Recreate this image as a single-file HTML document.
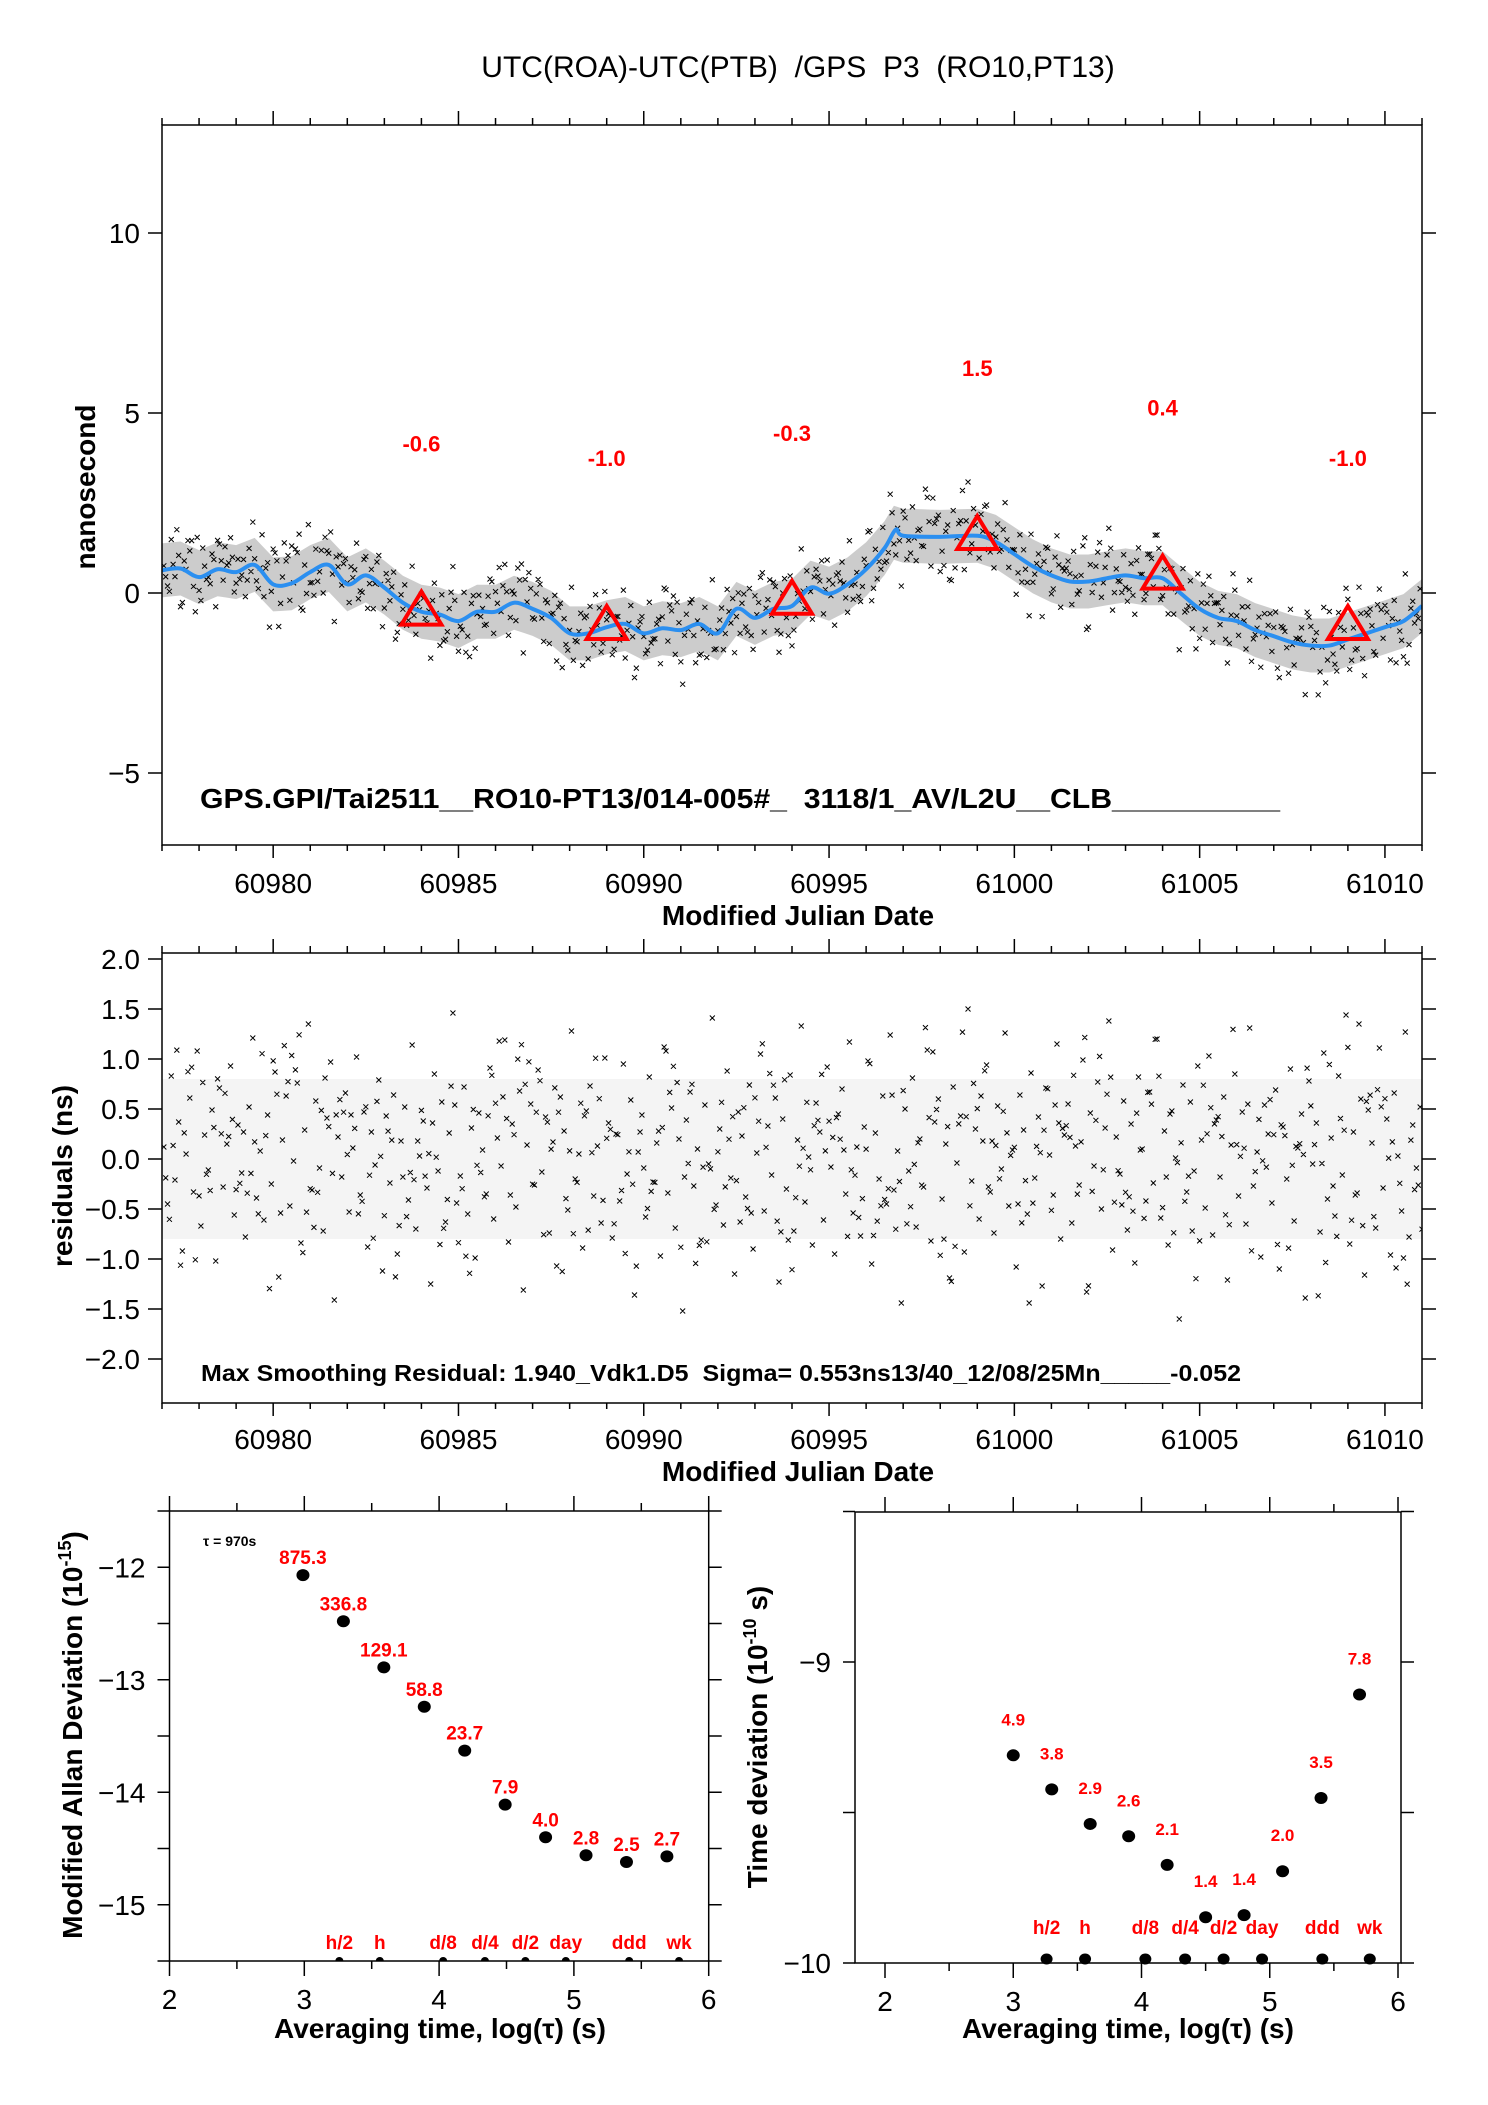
<!DOCTYPE html>
<html><head><meta charset="utf-8"><style>
html,body{margin:0;padding:0;background:#fff;}
svg{display:block;font-family:"Liberation Sans",sans-serif;}
svg text{white-space:pre;}
</style></head><body>
<svg id="chart" width="1488" height="2105" viewBox="0 0 1488 2105" xmlns="http://www.w3.org/2000/svg" xml:space="preserve">
<rect width="1488" height="2105" fill="#fff"/>
<text x="798" y="77" font-size="30" text-anchor="middle">UTC(ROA)-UTC(PTB)  /GPS  P3  (RO10,PT13)</text>
<defs>
<clipPath id="c1"><rect x="162" y="125" width="1260" height="720"/></clipPath>
<clipPath id="c2"><rect x="162" y="953" width="1260" height="450"/></clipPath>
</defs>
<g id="top"></g>
<g id="mid"></g>
<g id="bl"></g>
<g id="br"></g>
</svg>
<script>
// ---- top plot data ----
const days = [60977,60977.5,60978,60978.5,60979,60979.5,60980,60980.5,60981,60981.5,60982,60982.5,60983,60983.5,60984,60984.5,60985,60985.5,60986,60986.5,60987,60987.5,60988,60988.5,60989,60989.5,60990,60990.5,60991,60991.5,60992,60992.5,60993,60993.5,60994,60994.5,60995,60995.5,60996,60996.5,60996.8,60997,60998,60999,60999.5,61000,61000.5,61001,61001.5,61002,61002.5,61003,61003.5,61004,61004.5,61005,61005.5,61006,61006.5,61007,61007.5,61008,61008.5,61009,61009.5,61010,61010.5,61011];
const smoothVals = [0.63,0.68,0.44,0.66,0.58,0.78,0.24,0.27,0.58,0.78,0.24,0.49,0.15,-0.27,-0.52,-0.6,-0.78,-0.52,-0.52,-0.27,-0.44,-0.69,-1.12,-1.12,-0.95,-0.86,-1.12,-0.98,-1.03,-0.86,-1.12,-0.44,-0.69,-0.44,-0.36,0.15,-0.02,0.24,0.66,1.25,1.76,1.59,1.56,1.59,1.42,1.08,0.74,0.49,0.32,0.32,0.41,0.49,0.41,0.41,-0.02,-0.44,-0.69,-0.78,-1.03,-1.2,-1.37,-1.46,-1.46,-1.29,-1.12,-0.95,-0.78,-0.36];
const markerDays = [60984,60989,60994,60999,61004,61009];
const markerVals = [-0.6,-1.0,-0.3,1.5,0.4,-1.0];
const markerLabels = ["-0.6","-1.0","-0.3","1.5","0.4","-1.0"];
const mjdTicks = [60980,60985,60990,60995,61000,61005,61010];
const nsTicks = [-5,0,5,10];
const residTicks = [-2.0,-1.5,-1.0,-0.5,0.0,0.5,1.0,1.5,2.0];
const residStart = 60977.05, residStep = 0.1;
const resid = [0.12,-0.45,0.83,-0.21,0.37,-0.92,0.05,0.61,-0.33,1.08,-0.67,0.24,-0.11,0.49,-1.02,0.71,-0.28,0.15,0.93,-0.56,
0.34,-0.14,-0.78,0.52,1.21,-0.39,0.08,-0.61,0.44,-0.25,0.87,-1.18,0.19,0.63,-0.47,-0.02,0.76,-0.84,0.29,1.35,
-0.31,0.58,-0.09,-0.72,0.41,0.97,-1.41,0.22,-0.18,0.66,-0.53,0.11,1.02,-0.36,0.47,-0.88,0.27,-0.06,0.79,-1.12,
0.43,-0.24,0.64,-0.95,0.18,0.52,-0.41,1.14,-0.7,0.03,0.38,-0.29,-1.25,0.85,-0.12,0.57,-0.63,0.26,1.46,-0.44,
-0.17,0.72,-0.55,0.31,-0.99,0.46,0.09,-0.35,0.91,-0.6,0.21,-0.07,1.19,-0.83,0.35,-0.48,0.68,-1.31,0.14,0.55,
-0.26,0.89,-0.13,0.42,-0.74,0.17,-1.07,0.62,0.28,-0.51,1.28,-0.2,0.05,-0.89,0.48,0.73,-0.37,0.13,-0.64,1.01,
0.36,-0.79,0.25,-0.42,0.95,-0.15,0.59,-1.36,0.07,0.44,-0.58,0.82,-0.23,0.16,-0.97,1.12,-0.34,0.51,-0.69,0.2,
-1.52,0.39,0.67,-0.27,0.1,-0.81,0.54,-0.05,1.41,-0.46,0.3,-0.66,0.88,-0.19,-1.15,0.47,0.23,-0.38,0.74,-0.9,
0.06,1.05,-0.52,0.33,-0.16,0.61,-1.23,0.4,-0.3,0.84,-0.72,0.19,1.33,-0.43,0.02,-0.86,0.56,0.27,-0.61,0.92,
-0.08,-0.95,0.45,0.7,-0.35,1.17,-0.54,0.12,-0.77,0.32,0.98,-1.05,0.26,-0.2,0.63,-0.45,1.24,-0.31,0.08,-1.44,
0.5,-0.12,0.81,-0.68,0.2,-0.28,1.09,-0.82,0.37,0.6,-0.4,0.15,-1.19,0.72,-0.04,0.43,-0.93,1.5,-0.22,0.3,
-0.6,0.18,0.94,-0.33,-0.74,0.53,-0.1,1.26,-0.47,0.09,-1.08,0.64,0.29,-0.55,0.86,-0.19,0.42,-1.27,0.71,0.04,
-0.36,1.15,-0.8,0.24,0.55,-0.64,0.13,-0.26,0.99,-1.33,0.46,-0.07,0.77,-0.5,0.31,1.38,-0.91,0.22,-0.15,0.58,
-0.71,0.35,-1.04,0.82,0.1,-0.42,0.67,-0.24,1.2,-0.59,0.28,-0.86,0.48,0.01,-1.6,0.74,-0.33,0.57,-0.12,0.93,
0.19,-0.49,1.03,-0.76,0.39,-0.18,0.62,-1.21,0.14,0.85,-0.37,0.47,-0.65,1.31,-0.27,0.07,-0.98,0.54,0.25,-0.44,
0.69,-1.1,0.32,-0.2,0.9,-0.62,0.11,0.45,-1.39,0.78,-0.05,0.36,-0.73,1.06,-0.4,0.21,-0.57,0.83,-0.16,1.44,
-0.85,0.27,-0.34,0.6,-1.16,0.49,0.16,-0.69,1.11,-0.29,0.4,-0.96,0.66,0.03,-0.52,1.27,-0.78,0.34,-0.09,0.52];
// ---- bottom plots data ----
const logTau = [2.99,3.29,3.59,3.89,4.19,4.49,4.79,5.09,5.39,5.69];
const madevVals = [-12.07,-12.48,-12.89,-13.24,-13.63,-14.11,-14.40,-14.56,-14.62,-14.57];
const madevLabels = ["875.3","336.8","129.1","58.8","23.7","7.9","4.0","2.8","2.5","2.7"];
const tdevLogTau = [3.0,3.3,3.6,3.9,4.2,4.5,4.8,5.1,5.4,5.7];
const tdevVals = [-9.31,-9.423,-9.538,-9.579,-9.674,-9.848,-9.841,-9.695,-9.452,-9.108];
const tdevLabels = ["4.9","3.8","2.9","2.6","2.1","1.4","1.4","2.0","3.5","7.8"];
const periodLogTau = [3.26,3.56,4.03,4.34,4.64,4.94,5.41,5.78];
const periodLabels = ["h/2","h","d/8","d/4","d/2","day","ddd","wk"];
const logTicks = [2,3,4,5,6];
const madevTicks = [-15,-14,-13,-12];
const tdevTicks = [-10,-9];

const NS = "http://www.w3.org/2000/svg";
function mk(parent, tag, attrs, text){
  const e = document.createElementNS(NS, tag);
  for (const k in attrs) e.setAttribute(k, attrs[k]);
  if (text !== undefined) e.textContent = text;
  parent.appendChild(e);
  return e;
}
function lin(d0,d1,r0,r1){ return v => r0 + (v-d0)*(r1-r0)/(d1-d0); }
function smoothAt(t){
  if (t <= days[0]) return smoothVals[0];
  for (let i=1;i<days.length;i++){
    if (t <= days[i]){ const f=(t-days[i-1])/(days[i]-days[i-1]); return smoothVals[i-1]+f*(smoothVals[i]-smoothVals[i-1]); }
  }
  return smoothVals[smoothVals.length-1];
}
function frame(g, x0,y0,x1,y1){
  const r = mk(g,'rect',{x:x0,y:y0,width:x1-x0,height:y1-y0,fill:'none',stroke:'#000','stroke-width':1.5});
  
  
}
function tick(g,x1,y1,x2,y2){ mk(g,'line',{x1:x1,y1:y1,x2:x2,y2:y2,stroke:'#000','stroke-width':1.5}); }

// ================= TOP PLOT =================
(function(){
  const g = document.getElementById('top');
  const X0=162, X1=1422, Y0=125, Y1=845;
  const xs = lin(60977,61011,X0,X1), ys = lin(-7,13,Y1,Y0);
  for (let d=60977; d<=61011; d++){
    const major = d%5===0; const x=xs(d);
    tick(g,x,Y0,x,Y0-(major?14:7)); tick(g,x,Y1,x,Y1+(major?13:6));
  }
  mjdTicks.forEach(d=>{
    const t = mk(g,'text',{x:xs(d),y:Y1+48,'font-size':28,'text-anchor':'middle'},String(d));
    
    
  });
  nsTicks.forEach(v=>{
    const y=ys(v); tick(g,X0-14,y,X0,y); tick(g,X1,y,X1+14,y);
    const t = mk(g,'text',{x:X0-22,y:y+10,'font-size':28,'text-anchor':'end'},v<0?('\u2212'+Math.abs(v)):String(v));
    
    
  });
  const cg = mk(g,'g',{'clip-path':'url(#c1)'});
  let up=[],dn=[];
  for (let t=60977; t<=61011.001; t+=0.25){ up.push(xs(t)+','+ys(smoothAt(t)+0.75)); dn.unshift(xs(t)+','+ys(smoothAt(t)-0.75)); }
  const band = mk(cg,'polygon',{points:up.concat(dn).join(' '),fill:'#000','fill-opacity':0.2});
  
  
  let p='';
  resid.forEach((r,i)=>{
    const t = residStart+i*residStep;
    const x=xs(t), y=ys(smoothAt(t)+r);
    p+=`M${x-2.5},${y-2.5}L${x+2.5},${y+2.5}M${x-2.5},${y+2.5}L${x+2.5},${y-2.5}`;
    const t2 = t+residStep/2, r2 = resid[(i*7+3)%resid.length];
    const x2=xs(t2), y2=ys(smoothAt(t2)+r2*0.9);
    p+=`M${x2-2.5},${y2-2.5}L${x2+2.5},${y2+2.5}M${x2-2.5},${y2+2.5}L${x2+2.5},${y2-2.5}`;
  });
  const sc = mk(cg,'path',{d:p,stroke:'#000','stroke-width':1,fill:'none'});
  
  
  const pts = days.map((d,i)=>[xs(d),ys(smoothVals[i])]);
  let d='M'+pts[0][0]+','+pts[0][1];
  for (let i=0;i<pts.length-1;i++){
    const p0=pts[Math.max(0,i-1)],p1=pts[i],p2=pts[i+1],p3=pts[Math.min(pts.length-1,i+2)];
    d+=`C${p1[0]+(p2[0]-p0[0])/6},${p1[1]+(p2[1]-p0[1])/6} ${p2[0]-(p3[0]-p1[0])/6},${p2[1]-(p3[1]-p1[1])/6} ${p2[0]},${p2[1]}`;
  }
  const ln = mk(cg,'path',{d:d,stroke:'#2b8ff0','stroke-width':4,fill:'none'});
  
  
  markerDays.forEach((md,i)=>{
    const x=xs(md), y=ys(markerVals[i]);
    const tr = mk(g,'polygon',{points:`${x},${y-23} ${x-20},${y+10} ${x+20},${y+10}`,fill:'none',stroke:'#f00','stroke-width':4});
    
    
    const lb = mk(g,'text',{x:x,y:y-163,'font-size':22,'font-weight':'bold',fill:'#f00','text-anchor':'middle'},markerLabels[i]);
    
    
  });
  frame(g,X0,Y0,X1,Y1);
  const info = mk(g,'text',{x:200,y:808,'font-size':28,'font-weight':'bold',textLength:1080,lengthAdjust:'spacingAndGlyphs'},'GPS.GPI/Tai2511__RO10-PT13/014-005#_  3118/1_AV/L2U__CLB__________');
  
  
  const xt = mk(g,'text',{x:798,y:925,'font-size':28,'font-weight':'bold','text-anchor':'middle'},'Modified Julian Date');
  
  
  const yt = mk(g,'text',{x:0,y:0,'font-size':28,'font-weight':'bold','text-anchor':'middle',transform:'translate(95,487) rotate(-90)'},'nanosecond');
  
  
})();

// ================= MIDDLE PLOT =================
(function(){
  const g = document.getElementById('mid');
  const X0=162, X1=1422, Y0=953, Y1=1403;
  const xs = lin(60977,61011,X0,X1), ys = lin(-2.44,2.06,Y1,Y0);
  for (let d=60977; d<=61011; d++){
    const major = d%5===0; const x=xs(d);
    tick(g,x,Y0,x,Y0-(major?14:7)); tick(g,x,Y1,x,Y1+(major?13:6));
  }
  mjdTicks.forEach(d=>{
    const t = mk(g,'text',{x:xs(d),y:Y1+46,'font-size':28,'text-anchor':'middle'},String(d));
    
    
  });
  residTicks.forEach(v=>{
    const y=ys(v); tick(g,X0-14,y,X0,y); tick(g,X1,y,X1+14,y);
    const s = v<0?('\u2212'+Math.abs(v).toFixed(1)):v.toFixed(1);
    const t = mk(g,'text',{x:X0-22,y:y+10,'font-size':28,'text-anchor':'end'},s);
    
    
  });
  const cg = mk(g,'g',{'clip-path':'url(#c2)'});
  const band = mk(cg,'rect',{x:X0,y:ys(0.8),width:X1-X0,height:ys(-0.8)-ys(0.8),fill:'#000','fill-opacity':0.045});
  
  
  let p='';
  resid.forEach((r,i)=>{
    const t = residStart+i*residStep;
    const x=xs(t), y=ys(r);
    p+=`M${x-2.5},${y-2.5}L${x+2.5},${y+2.5}M${x-2.5},${y+2.5}L${x+2.5},${y-2.5}`;
    const t2 = t+residStep/2, r2 = resid[(i*7+3)%resid.length]*0.9;
    const x2=xs(t2), y2=ys(r2);
    p+=`M${x2-2.5},${y2-2.5}L${x2+2.5},${y2+2.5}M${x2-2.5},${y2+2.5}L${x2+2.5},${y2-2.5}`;
  });
  const sc = mk(cg,'path',{d:p,stroke:'#000','stroke-width':1,fill:'none'});
  
  
  frame(g,X0,Y0,X1,Y1);
  const info = mk(g,'text',{x:201,y:1381,'font-size':23,'font-weight':'bold',textLength:1040,lengthAdjust:'spacingAndGlyphs'},'Max Smoothing Residual: 1.940_Vdk1.D5  Sigma= 0.553ns13/40_12/08/25Mn_____-0.052');
  
  
  const xt = mk(g,'text',{x:798,y:1481,'font-size':28,'font-weight':'bold','text-anchor':'middle'},'Modified Julian Date');
  
  
  const yt = mk(g,'text',{x:0,y:0,'font-size':28,'font-weight':'bold','text-anchor':'middle',transform:'translate(72,1176) rotate(-90)'},'residuals (ns)');
  
  
})();

// ================= BOTTOM PLOTS =================
function logAxes(g,X0,X1,Y0,Y1,xs,ys,yMin,yMax,yTicks,minorStep){
  for (let v=2; v<=6.001; v+=0.5){
    const x=xs(v); const major=Math.abs(v-Math.round(v))<1e-6;
    if (x < X0-1) continue;
    tick(g,x,Y0,x,Y0-(major?15:8)); tick(g,x,Y1,x,Y1+(major?15:8));
  }
  logTicks.forEach(v=>{
    const t = mk(g,'text',{x:xs(v),y:Y1+48,'font-size':28,'text-anchor':'middle'},String(v));
    
    
  });
  for (let v=yMin; v<=yMax+1e-6; v+=minorStep){
    const y=ys(v); tick(g,X0-12,y,X0,y); tick(g,X1,y,X1+13,y);
  }
  yTicks.forEach(v=>{
    const y=ys(v);
    const t = mk(g,'text',{x:X0-24,y:y+10,'font-size':28,'text-anchor':'end'},'\u2212'+Math.abs(v));
    
    
  });
}
(function(){
  const g = document.getElementById('bl');
  const X0=169.5, X1=708.7, Y0=1511, Y1=1961;
  const xs = lin(2,6,X0,X1), ys = lin(-15.5,-11.5,Y1,Y0);
  logAxes(g,X0,X1,Y0,Y1,xs,ys,-15.5,-11.5,madevTicks,0.5);
  logTau.forEach((lt,i)=>{
    const c = mk(g,'ellipse',{cx:xs(lt),cy:ys(madevVals[i]),rx:6.5,ry:6,fill:'#000'});
    
    
    const t = mk(g,'text',{x:xs(lt),y:ys(madevVals[i])-11,'font-size':19,'font-weight':'bold',fill:'#f00','text-anchor':'middle'},madevLabels[i]);
    
    
  });
  periodLogTau.forEach((lt,i)=>{
    const c = mk(g,'path',{d:`M${xs(lt)-4},${Y1} A4,4 0 0 1 ${xs(lt)+4},${Y1}Z`,fill:'#000'});
    
    
    const t = mk(g,'text',{x:xs(lt),y:Y1-12,'font-size':19,'font-weight':'bold',fill:'#f00','text-anchor':'middle'},periodLabels[i]);
    
    
  });
  const tau = mk(g,'text',{x:203,y:1546,'font-size':14,'font-weight':'bold'},'\u03C4 = 970s');
  
  
  frame(g,X0,Y0,X1,Y1);
  const xt = mk(g,'text',{x:440,y:2038,'font-size':28,'font-weight':'bold','text-anchor':'middle'},'Averaging time, log(\u03C4) (s)');
  
  
  const yt = mk(g,'text',{x:0,y:0,'font-size':28,'font-weight':'bold','text-anchor':'middle',transform:'translate(82,1735) rotate(-90)'});
  
  
  mk(yt,'tspan',{},'Modified Allan Deviation (10');
  mk(yt,'tspan',{dy:-11,'font-size':18},'-15');
  mk(yt,'tspan',{dy:11},')');
})();
(function(){
  const g = document.getElementById('br');
  const X0=855, X1=1401, Y0=1512, Y1=1963;
  const xs = lin(2,6,885,1398), ys = lin(-10,-9,Y1,1662);
  logAxes(g,X0,X1,Y0,Y1,xs,ys,-10,-8.5,tdevTicks,0.5);
  tdevLogTau.forEach((lt,i)=>{
    const c = mk(g,'ellipse',{cx:xs(lt),cy:ys(tdevVals[i]),rx:6.5,ry:6,fill:'#000'});
    
    
    const t = mk(g,'text',{x:xs(lt),y:ys(tdevVals[i])-30,'font-size':17,'font-weight':'bold',fill:'#f00','text-anchor':'middle'},tdevLabels[i]);
    
    
  });
  periodLogTau.forEach((lt,i)=>{
    const c = mk(g,'ellipse',{cx:xs(lt),cy:Y1-4,rx:6,ry:5.5,fill:'#000'});
    
    
    const t = mk(g,'text',{x:xs(lt),y:Y1-29,'font-size':19,'font-weight':'bold',fill:'#f00','text-anchor':'middle'},periodLabels[i]);
    
    
  });
  frame(g,X0,Y0,X1,Y1);
  const xt = mk(g,'text',{x:1128,y:2038,'font-size':28,'font-weight':'bold','text-anchor':'middle'},'Averaging time, log(\u03C4) (s)');
  
  
  const yt = mk(g,'text',{x:0,y:0,'font-size':28,'font-weight':'bold','text-anchor':'middle',transform:'translate(767,1737) rotate(-90)'});
  
  
  mk(yt,'tspan',{},'Time deviation (10');
  mk(yt,'tspan',{dy:-11,'font-size':18},'-10');
  mk(yt,'tspan',{dy:11},' s)');
})();
</script>
</body></html>
